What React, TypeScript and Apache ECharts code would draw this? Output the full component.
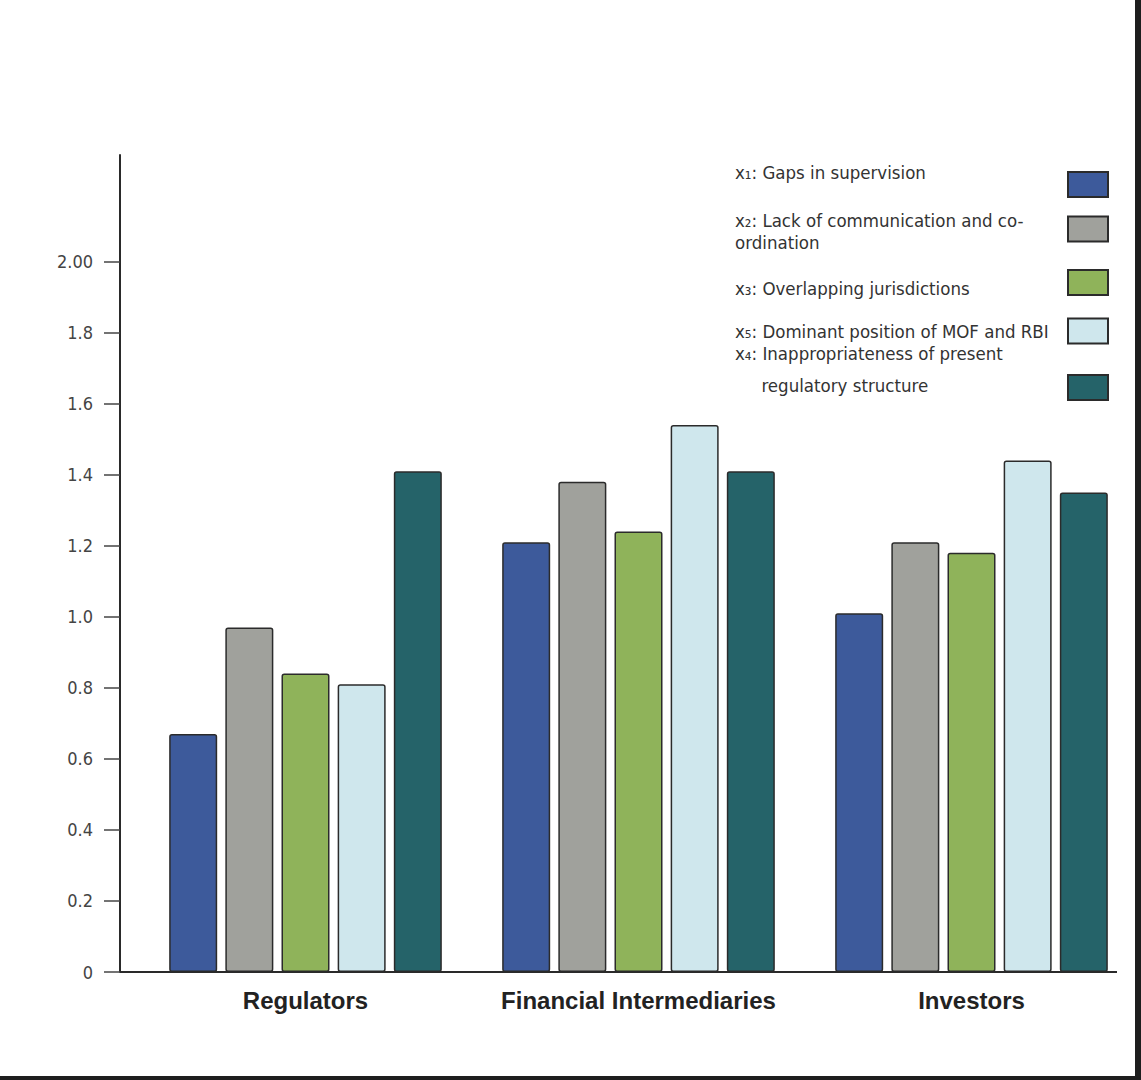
import React, { useEffect, useRef } from "react";
import * as echarts from "echarts";

const categories = ["Regulators", "Financial Intermediaries", "Investors"];
const seriesNames = ["x1", "x2", "x3", "x5", "x4"];
const legendTexts = [
  ["x₁: Gaps in supervision"],
  ["x₂: Lack of communication and co-", "ordination"],
  ["x₃: Overlapping jurisdictions"],
  ["x₅: Dominant position of MOF and RBI"],
  ["x₄: Inappropriateness of present", "     regulatory structure"],
];
const x1Values = [0.67, 1.21, 1.01];
const x2Values = [0.97, 1.38, 1.21];
const x3Values = [0.84, 1.24, 1.18];
const x5Values = [0.81, 1.54, 1.44];
const x4Values = [1.41, 1.41, 1.35];
const seriesValues = [x1Values, x2Values, x3Values, x5Values, x4Values];
const colors = ["#3d5a9b", "#a0a19c", "#8fb35a", "#cfe7ed", "#256369"];
const yTicks = [0, 0.2, 0.4, 0.6, 0.8, 1.0, 1.2, 1.4, 1.6, 1.8, 2.0];

const NARROW = "'Liberation Sans Narrow', 'DejaVu Sans Condensed', 'Arial Narrow', sans-serif";

export default function App() {
  const ref = useRef<HTMLDivElement>(null);
  useEffect(() => {
    if (!ref.current) return;
    const chart = echarts.init(ref.current, null, { renderer: "svg" });
    const iconCenters = [184.5, 229, 282.5, 330, 387.5];
    const textCenters = [172, 231, 288, 330, 369];
    const lineHeights = [24, 22, 24, 24, 32];
    const iconH = 25;
    const legends = seriesNames.map((name, i) => {
      const lines = legendTexts[i];
      const lh = lineHeights[i];
      const d = textCenters[i] - iconCenters[i];
      const pad = d < 0 ? [0, 0, -2 * d, 0] : [2 * d, 0, 0, 0];
      const H = lines.length * lh + 2 * Math.abs(d);
      const boxTop = iconCenters[i] - H / 2;
      const top = Math.min(iconCenters[i] - iconH / 2, boxTop);
      return {
        data: [name],
        orient: "vertical",
        left: 735,
        top,
        padding: 0,
        align: "right",
        itemWidth: 40,
        itemHeight: iconH,
        icon: "rect",
        selectedMode: false,
        formatter: () => lines.map((l) => `{t|${l}}`).join("\n"),
        textStyle: {
          width: 328,
          padding: pad,
          color: "#333",
          fontFamily: NARROW,
          fontSize: 18.5,
          lineHeight: lh,
          rich: {
            t: { align: "left", fontSize: 18.5, lineHeight: lh, fontFamily: NARROW, color: "#333", padding: 0 },
          },
        },
      };
    });

    chart.setOption({
      animation: false,
      backgroundColor: "#fff",
      legend: legends,
      grid: { left: 139, width: 999, top: 155, height: 817 },
      xAxis: {
        type: "category",
        data: categories,
        axisLine: { show: false },
        axisTick: { show: false },
        axisLabel: {
          interval: 0,
          hideOverlap: false,
          margin: 16,
          color: "#222",
          fontWeight: "bold",
          fontSize: 24,
          fontFamily: "'Liberation Sans', Arial, sans-serif",
        },
      },
      yAxis: {
        type: "value",
        min: 0,
        max: 2.3,
        offset: 19,
        splitLine: { show: false },
        axisLine: { show: true, lineStyle: { color: "#2a2a2a", width: 2 } },
        axisTick: {
          show: true,
          length: 16,
          customValues: yTicks,
          lineStyle: { color: "#444", width: 1.5 },
        },
        axisLabel: {
          customValues: yTicks,
          margin: 27,
          color: "#444",
          fontSize: 18,
          fontFamily: NARROW,
          formatter: (v: number) => (v === 0 ? "0" : Math.abs(v - 2) < 1e-6 ? "2.00" : v.toFixed(1)),
        },
      },
      series: seriesNames.map((name, i) => ({
        name,
        type: "bar",
        data: seriesValues[i],
        barWidth: 48,
        barGap: "17%",
        itemStyle: {
          color: colors[i],
          borderColor: "#2b2b2b",
          borderWidth: 1.5,
          borderRadius: 2,
        },
      })),
    });

    const y0 = chart.convertToPixel({ yAxisIndex: 0 }, 0) as number;
    chart.setOption({
      graphic: [
        {
          type: "line",
          shape: { x1: 120, y1: y0, x2: 1117, y2: y0 },
          style: { stroke: "#2a2a2a", lineWidth: 2 },
          z: 10,
        },
      ],
    });

    return () => chart.dispose();
  }, []);

  return (
    <div style={{ position: "absolute", left: 0, top: 0, width: 1141, height: 1080, background: "#fff" }}>
      <div ref={ref} style={{ position: "absolute", left: 0, top: 0, width: 1141, height: 1080 }} />
      <div
        style={{
          position: "absolute",
          left: 0,
          top: 0,
          width: 1141,
          height: 1080,
          boxSizing: "border-box",
          borderRight: "6px solid #1e1e1e",
          borderBottom: "4px solid #1e1e1e",
          pointerEvents: "none",
        }}
      />
    </div>
  );
}
